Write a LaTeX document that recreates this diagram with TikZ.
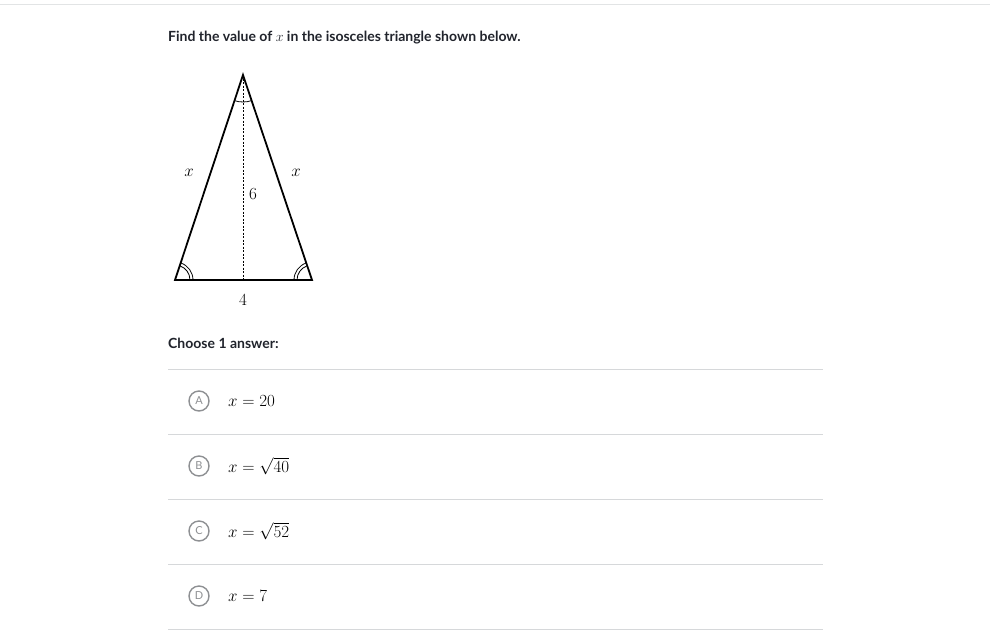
\RequirePackage{fix-cm}
\documentclass[tikz,border=0pt]{standalone}
\usepackage{fontspec}
\setmainfont{Lato}
\usetikzlibrary{angles}
\definecolor{txt}{HTML}{21242C}
\definecolor{rule}{HTML}{D6D8DA}
\definecolor{circ}{HTML}{8E9093}
\begin{document}
\begin{tikzpicture}[x=1pt,y=1pt,
  prose/.style={anchor=west,inner sep=0pt,text=txt,font=\fontsize{14}{16}\selectfont\bfseries},
  mathlbl/.style={inner sep=0pt,text=black,font=\fontsize{17}{19}\selectfont},
  answer/.style={anchor=west,inner sep=0pt,text=black,font=\fontsize{17}{19}\selectfont},
  sepline/.style={draw=rule,line width=1pt},
  choice/.style={circle,draw=circ,line width=1.4pt,minimum size=20pt,inner sep=0pt,text=circ,font=\fontsize{11}{12}\selectfont}]
\useasboundingbox[fill=white] (0,0) rectangle (990,-635);
\draw[draw=rule!70,line width=0.8pt] (0,-4) -- (990,-4);
\node[prose] (q) at (168,-37.5) {Find the value of $x$ in the isosceles triangle shown below.};
% triangle
\coordinate (A) at (243,-75);
\coordinate (L) at (175,-280);
\coordinate (R) at (312,-280);
\coordinate (M) at (243,-280);
\draw[line width=1.8pt,line join=miter] (A) -- (L) -- (R) -- cycle;
\draw[dash pattern=on 2pt off 1.5pt,line width=0.8pt] (A) -- (M);
\pic[draw,line width=0.8pt,angle radius=27pt] {angle=L--A--R};
\pic[draw,line width=0.8pt,angle radius=15pt] {angle=R--L--A};
\pic[draw,line width=0.8pt,angle radius=18pt] {angle=R--L--A};
\pic[draw,line width=0.8pt,angle radius=15pt] {angle=A--R--L};
\pic[draw,line width=0.8pt,angle radius=18pt] {angle=A--R--L};
\node[mathlbl] (xl) at (189,-173) {$x$};
\node[mathlbl] (xr) at (296,-173) {$x$};
\node[mathlbl] (six) at (253,-194) {$6$};
\node[mathlbl] (four) at (243,-300) {$4$};
\node[prose] (ch) at (168,-343.5) {Choose 1 answer:};
% separators
\foreach \y in {369,434,499,564,629} \draw[sepline] (168,-\y) -- (823,-\y);
% choices
\node[choice] (ca) at (199,-401) {A};
\node[choice] (cb) at (199,-466) {B};
\node[choice] (cc) at (199,-531) {C};
\node[choice] (cd) at (199,-596) {D};
\node[answer] (aa) at (228,-401) {$x=20$};
\node[answer] (ab) at (228,-466) {$x=\sqrt{40}$};
\node[answer] (ac) at (228,-531) {$x=\sqrt{52}$};
\node[answer] (ad) at (228,-596) {$x=7$};
\end{tikzpicture}
\end{document}
